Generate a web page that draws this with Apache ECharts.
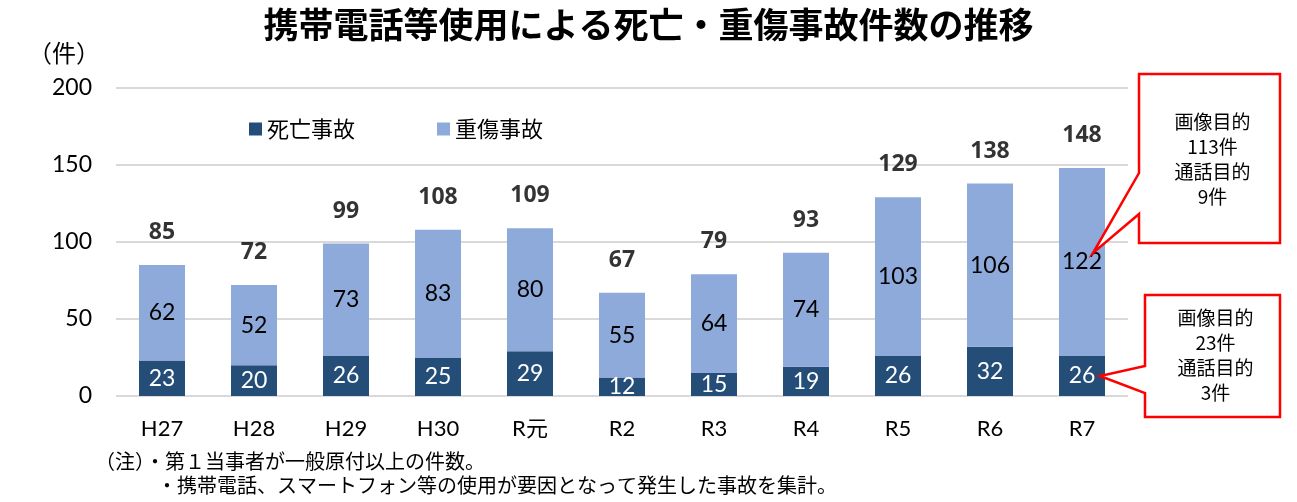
<!DOCTYPE html>
<html>
<head>
<meta charset="utf-8">
<script src="https://cdn.jsdelivr.net/npm/echarts@6/dist/echarts.min.js"></script>
<style>
  html, body { margin: 0; padding: 0; background: #fff; }
  #chart { width: 1297px; height: 502px; }
</style>
</head>
<body>
<div id="chart"></div>
<script>
// 携帯電話等使用による死亡・重傷事故件数の推移
var years = ['H27', 'H28', 'H29', 'H30', 'R元', 'R2', 'R3', 'R4', 'R5', 'R6', 'R7'];
var deaths = [23, 20, 26, 25, 29, 12, 15, 19, 26, 32, 26];
var injuries = [62, 52, 73, 83, 80, 55, 64, 74, 103, 106, 122];
var totals = [85, 72, 99, 108, 109, 67, 79, 93, 129, 138, 148];
var yTicks = { min: 0, max: 200, step: 50 };

var dark = '#244e78';
var light = '#8eaadb';
var grid = '#d9d9d9';
var red = '#ff0000';
var numFont = 'Lato, "Noto Sans CJK JP", sans-serif';
var boldFont = '"Open Sans", Roboto, sans-serif';
var jpFont = '"Noto Sans CJK JP", sans-serif';

var chart = echarts.init(document.getElementById('chart'), null, { renderer: 'canvas' });

chart.setOption({
  animation: false,
  textStyle: { fontFamily: numFont },
  title: {
    text: '携帯電話等使用による死亡・重傷事故件数の推移',
    left: 'center',
    top: 2,
    textStyle: { fontFamily: jpFont, fontSize: 35, fontWeight: 'bold', color: '#000' }
  },
  legend: {
    left: 244,
    top: 113,
    itemWidth: 13,
    itemHeight: 13,
    itemGap: 82,
    icon: 'rect',
    textStyle: { fontFamily: jpFont, fontSize: 22, color: '#000' },
    data: ['死亡事故', '重傷事故']
  },
  grid: { left: 116, right: 169, top: 88, bottom: 106 },
  xAxis: {
    type: 'category',
    data: years,
    axisLine: { show: false },
    axisTick: { show: false },
    axisLabel: { color: '#000', fontSize: 22, margin: 22, fontFamily: numFont }
  },
  yAxis: {
    type: 'value',
    min: yTicks.min,
    max: yTicks.max,
    interval: yTicks.step,
    axisLine: { show: false },
    axisTick: { show: false },
    splitLine: { lineStyle: { color: grid, width: 2 } },
    axisLabel: { color: '#000', fontSize: 23, margin: 24 }
  },
  series: [
    {
      name: '死亡事故',
      type: 'bar',
      stack: 'all',
      barWidth: '50%',
      itemStyle: { color: dark },
      label: { show: true, position: 'inside', color: '#fff', fontSize: 23, fontFamily: numFont },
      data: deaths
    },
    {
      name: '重傷事故',
      type: 'bar',
      stack: 'all',
      itemStyle: { color: light },
      label: { show: true, position: 'inside', color: '#000', fontSize: 23, fontFamily: numFont },
      data: injuries
    },
    {
      name: '合計',
      type: 'scatter',
      data: totals,
      symbolSize: 2,
      itemStyle: { color: 'rgba(0,0,0,0)' },
      label: { show: true, position: 'top', distance: 20, color: '#000', fontSize: 23, fontWeight: 'bold', fontFamily: boldFont },
      silent: true
    }
  ]
});

// callouts for R7
function callout(box, baseTop, baseBot, tip, lines, textY) {
  var pts = [
    [box.x, box.y], [box.x + box.w, box.y], [box.x + box.w, box.y + box.h], [box.x, box.y + box.h],
    [box.x, baseBot], tip, [box.x, baseTop]
  ];
  return [
    { type: 'polygon', shape: { points: pts }, style: { fill: '#fff', stroke: red, lineWidth: 2.5 }, z: 100 },
    {
      type: 'text', x: box.x + box.w / 2 + 3, y: textY, z: 101,
      style: { text: lines.join('\n'), fill: '#000', font: '19px "Noto Sans CJK JP", sans-serif', align: 'center', lineHeight: 25 }
    }
  ];
}

var last = years.length - 1;
var tipA = chart.convertToPixel({ seriesIndex: 0 }, [last, deaths[last] + injuries[last] / 2]);
var tipB = chart.convertToPixel({ seriesIndex: 0 }, [last, deaths[last] / 2]);

chart.setOption({
  graphic: [].concat(
    callout({ x: 1139, y: 74, w: 141, h: 169 }, 173, 214, [tipA[0] + 11, tipA[1] - 9],
      ['画像目的', '113件', '通話目的', '9件'], 109),
    callout({ x: 1145, y: 295, w: 135, h: 122 }, 366, 393, [tipB[0] + 18, tipB[1]],
      ['画像目的', '23件', '通話目的', '3件'], 305),
    [
      {
        type: 'text', x: 28, y: 41,
        style: { text: '（件）', fill: '#000', font: '24px "Noto Sans CJK JP", sans-serif' }
      },
      {
        type: 'text', x: 95, y: 451,
        style: { text: '（注）・第１当事者が一般原付以上の件数。', fill: '#000', font: '20px "Noto Sans CJK JP", sans-serif' }
      },
      {
        type: 'text', x: 157, y: 475,
        style: { text: '・携帯電話、スマートフォン等の使用が要因となって発生した事故を集計。', fill: '#000', font: '20px "Noto Sans CJK JP", sans-serif' }
      }
    ]
  )
});

window.addEventListener('resize', function () { chart.resize(); });
</script>
</body>
</html>
